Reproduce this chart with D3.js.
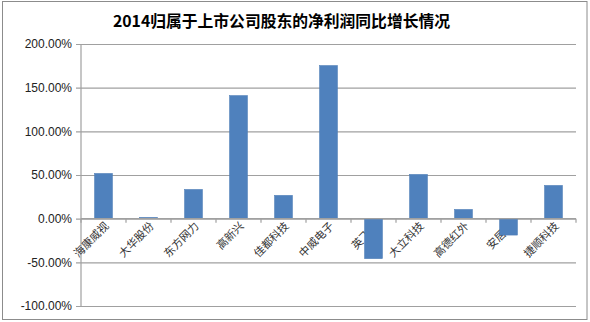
<!DOCTYPE html>
<html>
<head>
<meta charset="utf-8">
<script src="https://cdn.jsdelivr.net/npm/d3@7"></script>
<style>
  html, body { margin: 0; padding: 0; background: #fff; }
  svg { display: block; }
</style>
</head>
<body>
<svg id="chart" width="590" height="322"></svg>
<script>
// Net profit growth attributable to shareholders, 2014 (%)
const companies = ["海康威视", "大华股份", "东方网力", "高新兴", "佳都科技", "中威电子",
                   "英飞拓", "大立科技", "高德红外", "安居宝", "捷顺科技"];
const growth = [51.8, 1.5, 33.5, 141.0, 26.7, 175.4, -45.8, 50.7, 10.6, -18.8, 38.1];
const yTicks = [-100, -50, 0, 50, 100, 150, 200];
const titleText = "2014归属于上市公司股东的净利润同比增长情况";

const svg = d3.select("#chart");
const W = 590, H = 322;
const plot = { left: 81, right: 576, top: 44, bottom: 306 };

// outer frame
svg.append("rect")
  .attr("x", 2.5).attr("y", 1.5)
  .attr("width", W - 5.5).attr("height", H - 4)
  .attr("fill", "#fff").attr("stroke", "#8c8c8c").attr("stroke-width", 1);

const xBand = d3.scaleBand().domain(companies).range([plot.left, plot.right]);
const y = d3.scaleLinear().domain([-100, 200]).range([plot.bottom, plot.top]);

// title
svg.append("text")
  .attr("x", 113).attr("y", 27)
  .attr("font-family", "'Noto Sans CJK SC', sans-serif")
  .attr("font-weight", "bold")
  .attr("font-size", 16)
  .attr("fill", "#000")
  .attr("textLength", 337)
  .attr("lengthAdjust", "spacingAndGlyphs")
  .text(titleText);

// horizontal gridlines with left ticks
const yAxis = d3.axisLeft(y).tickValues(yTicks)
  .tickSize(-(plot.right - plot.left))
  .tickFormat(d => d.toFixed(2) + "%");
const gy = svg.append("g").attr("transform", `translate(${plot.left},0)`).call(yAxis);
gy.select(".domain").remove();
gy.selectAll(".tick line").attr("stroke", "#a0a0a0").attr("stroke-width", 1.2).attr("x1", -5);
gy.selectAll(".tick text")
  .attr("x", -9)
  .attr("font-family", "'Liberation Sans', Arial, sans-serif")
  .attr("font-size", 12)
  .attr("fill", "#222");

// vertical axis line
svg.append("line")
  .attr("x1", plot.left).attr("x2", plot.left)
  .attr("y1", plot.top).attr("y2", plot.bottom)
  .attr("stroke", "#a0a0a0").attr("stroke-width", 1.2);

// rotated category labels (drawn beneath the bars)
svg.append("g").selectAll("text").data(companies).join("text")
  .attr("transform", d => `translate(${xBand(d) + xBand.bandwidth() / 2 + 4},${y(0) + 6}) rotate(-45)`)
  .attr("text-anchor", "end")
  .attr("dominant-baseline", "middle")
  .attr("font-family", "'Noto Sans CJK SC', sans-serif")
  .attr("font-size", 11)
  .attr("fill", "#333")
  .text(d => d);

// bars
svg.append("g").selectAll("rect").data(companies).join("rect")
  .attr("x", (d) => xBand(d) + (xBand.bandwidth() - 18) / 2)
  .attr("width", 18)
  .attr("y", (d, i) => y(Math.max(0, growth[i])))
  .attr("height", (d, i) => Math.abs(y(growth[i]) - y(0)))
  .attr("fill", "#4f81bd")
  .attr("stroke", "#4a7ab3")
  .attr("stroke-width", 0.5);

// category axis along zero line
const xAxisLine = svg.append("g");
xAxisLine.append("line")
  .attr("x1", plot.left).attr("x2", plot.right)
  .attr("y1", y(0)).attr("y2", y(0))
  .attr("stroke", "#a0a0a0").attr("stroke-width", 1.2);
const boundaries = companies.map(c => xBand(c)).concat([plot.right]);
xAxisLine.selectAll("line.tk").data(boundaries).join("line")
  .attr("class", "tk")
  .attr("x1", d => d).attr("x2", d => d)
  .attr("y1", y(0)).attr("y2", y(0) + 4)
  .attr("stroke", "#a0a0a0").attr("stroke-width", 1.2);
</script>
</body>
</html>
